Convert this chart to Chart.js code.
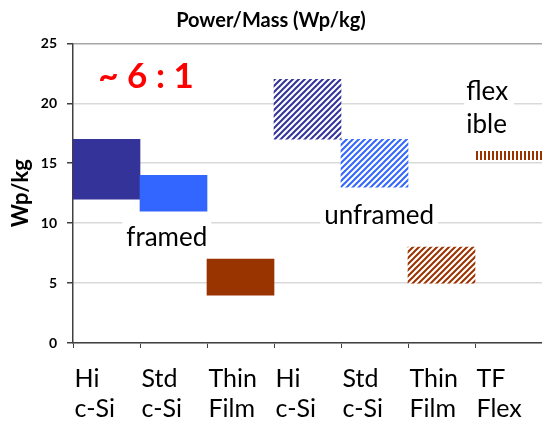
<!DOCTYPE html>
<html>
<head>
<meta charset="utf-8">
<script src="https://cdn.jsdelivr.net/npm/chart.js@4"></script>
<style>
  html, body { margin: 0; padding: 0; background: #fff; overflow: hidden; }
  #wrap { width: 542px; height: 427px; }
</style>
</head>
<body>
<div id="wrap"><canvas id="massChart" width="542" height="427"></canvas></div>
<script>
// categories (two text lines each)
const categories = [
    ["Hi", "c-Si"], ["Std", "c-Si"], ["Thin", "Film"],
    ["Hi", "c-Si"], ["Std", "c-Si"], ["Thin", "Film"], ["TF", "Flex"]
];
// Wp/kg ranges, low and high
const lowValues  = [12, 11, 4, 17, 13, 5, 15.3];
const highValues = [17, 14, 7, 22, 17, 8, 16];
const yTicks = [0, 5, 10, 15, 20, 25];

// text notes: [text, category position, value]
const notes = [
    ["~ 6 : 1", 0.59, 21.3],
    ["framed", 0.9, 8.1],
    ["unframed", 4.07, 9.9],
    ["flex", 5.37, 20.25],
    ["ible", 5.37, 17.5]
];

function stripes(color, vertical) {
    const c = document.createElement('canvas');
    const s = vertical ? 4 : 6;
    c.width = s; c.height = s;
    const g = c.getContext('2d');
    g.fillStyle = '#fff';
    g.fillRect(0, 0, s, s);
    if (vertical) {
        g.fillStyle = color;
        g.fillRect(0, 0, 2, s);
    } else {
        g.strokeStyle = color;
        g.lineWidth = 2;
        g.beginPath();
        g.moveTo(0, s); g.lineTo(s, 0);
        g.moveTo(-1, 1); g.lineTo(1, -1);
        g.moveTo(s - 1, s + 1); g.lineTo(s + 1, s - 1);
        g.stroke();
    }
    return g.createPattern(c, 'repeat');
}

const barColors = [
    '#333399', '#3366ff', '#993300',
    stripes('#333399'), stripes('#3366ff'), stripes('#993300'),
    stripes('#993300', true)
];

// draw the notes on top of the bars
const notesPlugin = {
    id: 'notes',
    afterDatasetsDraw(chart) {
        const c = chart.ctx;
        const xs = chart.scales.x, ys = chart.scales.y;
        c.save();
        notes.forEach(n => {
            const red = n[0].startsWith('~');
            c.font = red ? 'bold 35px Lato' : '26px Lato';
            const left = n[0] === 'flex' || n[0] === 'ible';
            c.textAlign = left ? 'left' : 'center';
            c.textBaseline = 'alphabetic';
            const x = xs.getPixelForValue(n[1]);
            const y = ys.getPixelForValue(n[2]);
            const w = c.measureText(n[0]).width;
            if (!red) {
                c.fillStyle = '#fff';
                const x0 = left ? x - 2 : x - w / 2 - 4;
                c.fillRect(x0, y - 24, w + 8, 30);
            }
            c.fillStyle = red ? '#ff0000' : '#000';
            c.fillText(n[0], x, y);
        });
        c.restore();
    }
};

const ctx = document.getElementById('massChart').getContext('2d');
new Chart(ctx, {
    type: 'bar',
    data: {
        labels: categories,
        datasets: [{
            data: lowValues.map((v, i) => [v, highValues[i]]),
            backgroundColor: barColors,
            borderWidth: 0,
            barPercentage: 1,
            categoryPercentage: 1
        }]
    },
    options: {
        responsive: false,
        animation: false,
        layout: { padding: 0 },
        plugins: {
            legend: { display: false },
            tooltip: { enabled: false },
            title: {
                display: true,
                text: 'Power/Mass (Wp/kg)',
                color: '#000',
                font: { family: 'Lato', size: 20, weight: 'bold' },
                padding: { top: 9, bottom: 10.4 }
            }
        },
        scales: {
            x: {
                grid: { drawOnChartArea: false, tickLength: 5, tickColor: '#404040' },
                border: { color: '#404040', width: 1.5 },
                ticks: {
                    color: '#000',
                    font: { family: 'Lato', size: 25, lineHeight: 1.2 },
                    align: 'start',
                    labelOffset: -32,
                    padding: 16,
                    maxRotation: 0,
                    autoSkip: false
                },
                afterFit(scale) {
                    scale.height = 84;
                    scale.paddingLeft = 0;
                    scale.paddingRight = 0;
                }
            },
            y: {
                min: 0,
                max: 25,
                afterBuildTicks(scale) {
                    scale.ticks = yTicks.map(v => ({ value: v }));
                },
                grid: {
                    color: c => c.tick && c.tick.value === 25 ? '#a6a6a6' : '#d9d9d9',
                    lineWidth: 1.5,
                    tickLength: 6,
                    tickColor: '#404040'
                },
                border: { color: '#404040', width: 1.5 },
                ticks: {
                    color: '#000',
                    font: { family: 'Lato', size: 14, weight: 'bold' },
                    padding: 10
                },
                title: {
                    display: true,
                    text: 'Wp/kg',
                    color: '#000',
                    font: { family: 'Lato', size: 22, weight: 'bold' },
                    padding: { top: 8, bottom: 0 }
                },
                afterFit(scale) {
                    scale.width = 73;
                }
            }
        }
    },
    plugins: [notesPlugin]
});
</script>
</body>
</html>
